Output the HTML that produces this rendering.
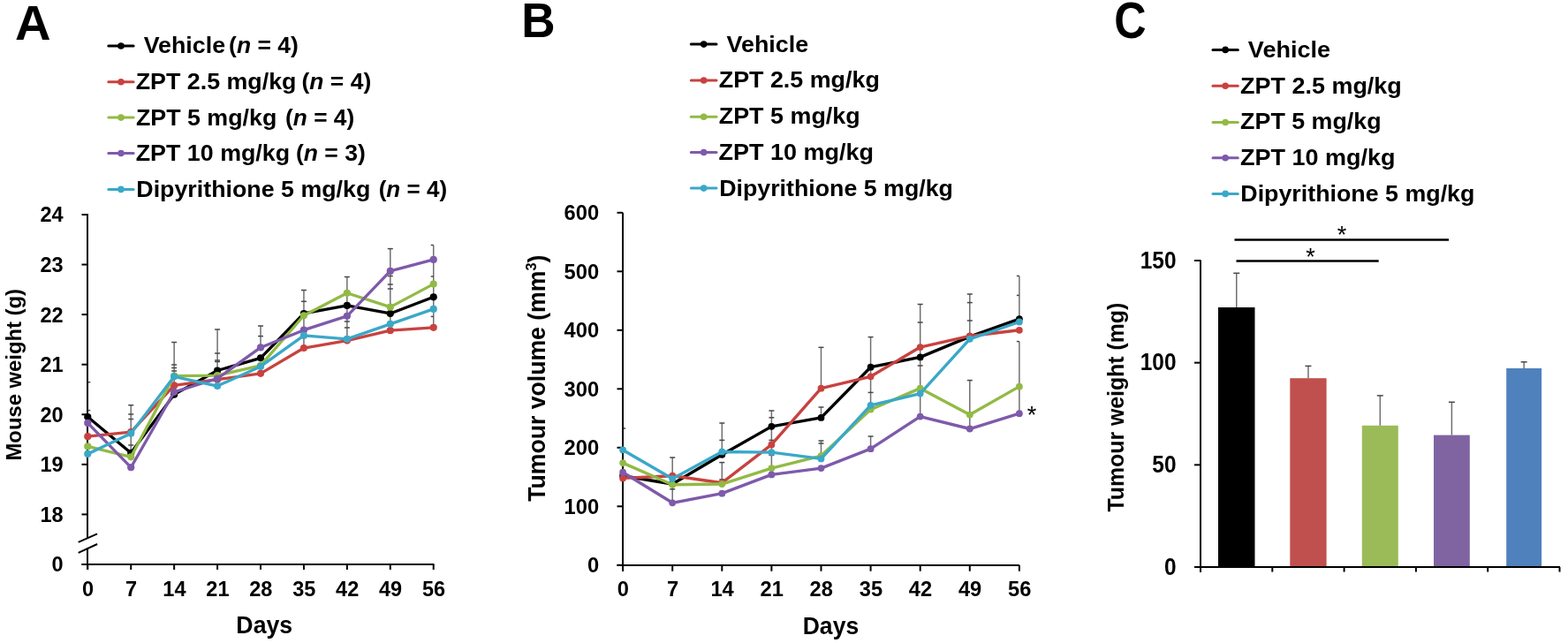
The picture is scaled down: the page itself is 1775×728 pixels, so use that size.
<!DOCTYPE html>
<html><head><meta charset="utf-8"><title>Figure</title>
<style>
html,body{margin:0;padding:0;background:#fff;}
svg{display:block;}
text{font-family:'Liberation Sans', Arial, Helvetica, sans-serif;font-weight:bold;fill:#000;}
</style></head><body>
<svg width="1775" height="728" viewBox="0 0 1775 728">
<rect width="1775" height="728" fill="#fff"/>
<line x1="99.30" y1="432.70" x2="99.30" y2="513.95" stroke="#707070" stroke-width="1.5" />
<line x1="99.30" y1="432.70" x2="102.30" y2="432.70" stroke="#484848" stroke-width="1.5" />
<line x1="99.30" y1="464.60" x2="102.30" y2="464.60" stroke="#484848" stroke-width="1.5" />
<line x1="148.23" y1="458.70" x2="148.23" y2="517.00" stroke="#707070" stroke-width="1.5" />
<line x1="145.23" y1="458.70" x2="151.23" y2="458.70" stroke="#484848" stroke-width="1.5" />
<line x1="145.23" y1="469.00" x2="151.23" y2="469.00" stroke="#484848" stroke-width="1.5" />
<line x1="145.23" y1="474.50" x2="151.23" y2="474.50" stroke="#484848" stroke-width="1.5" />
<line x1="145.23" y1="504.00" x2="151.23" y2="504.00" stroke="#484848" stroke-width="1.5" />
<line x1="197.16" y1="387.50" x2="197.16" y2="446.63" stroke="#707070" stroke-width="1.5" />
<line x1="194.16" y1="387.50" x2="200.16" y2="387.50" stroke="#484848" stroke-width="1.5" />
<line x1="194.16" y1="413.00" x2="200.16" y2="413.00" stroke="#484848" stroke-width="1.5" />
<line x1="194.16" y1="416.50" x2="200.16" y2="416.50" stroke="#484848" stroke-width="1.5" />
<line x1="194.16" y1="420.00" x2="200.16" y2="420.00" stroke="#484848" stroke-width="1.5" />
<line x1="246.09" y1="373.00" x2="246.09" y2="437.02" stroke="#707070" stroke-width="1.5" />
<line x1="243.09" y1="373.00" x2="249.09" y2="373.00" stroke="#484848" stroke-width="1.5" />
<line x1="243.09" y1="400.00" x2="249.09" y2="400.00" stroke="#484848" stroke-width="1.5" />
<line x1="243.09" y1="408.00" x2="249.09" y2="408.00" stroke="#484848" stroke-width="1.5" />
<line x1="243.09" y1="409.50" x2="249.09" y2="409.50" stroke="#484848" stroke-width="1.5" />
<line x1="295.02" y1="369.00" x2="295.02" y2="394.00" stroke="#707070" stroke-width="1.5" />
<line x1="292.02" y1="369.00" x2="298.02" y2="369.00" stroke="#484848" stroke-width="1.5" />
<line x1="292.02" y1="380.60" x2="298.02" y2="380.60" stroke="#484848" stroke-width="1.5" />
<line x1="343.95" y1="328.50" x2="343.95" y2="394.02" stroke="#707070" stroke-width="1.5" />
<line x1="340.95" y1="328.50" x2="346.95" y2="328.50" stroke="#484848" stroke-width="1.5" />
<line x1="340.95" y1="341.30" x2="346.95" y2="341.30" stroke="#484848" stroke-width="1.5" />
<line x1="392.88" y1="313.50" x2="392.88" y2="385.54" stroke="#707070" stroke-width="1.5" />
<line x1="389.88" y1="313.50" x2="395.88" y2="313.50" stroke="#484848" stroke-width="1.5" />
<line x1="389.88" y1="364.00" x2="395.88" y2="364.00" stroke="#484848" stroke-width="1.5" />
<line x1="389.88" y1="371.00" x2="395.88" y2="371.00" stroke="#484848" stroke-width="1.5" />
<line x1="441.81" y1="281.60" x2="441.81" y2="374.22" stroke="#707070" stroke-width="1.5" />
<line x1="438.81" y1="281.60" x2="444.81" y2="281.60" stroke="#484848" stroke-width="1.5" />
<line x1="438.81" y1="312.50" x2="444.81" y2="312.50" stroke="#484848" stroke-width="1.5" />
<line x1="438.81" y1="322.00" x2="444.81" y2="322.00" stroke="#484848" stroke-width="1.5" />
<line x1="438.81" y1="327.00" x2="444.81" y2="327.00" stroke="#484848" stroke-width="1.5" />
<line x1="490.74" y1="277.50" x2="490.74" y2="370.83" stroke="#707070" stroke-width="1.5" />
<line x1="487.74" y1="277.50" x2="490.74" y2="277.50" stroke="#484848" stroke-width="1.5" />
<line x1="487.74" y1="313.00" x2="490.74" y2="313.00" stroke="#484848" stroke-width="1.5" />
<line x1="487.74" y1="358.40" x2="490.74" y2="358.40" stroke="#484848" stroke-width="1.5" />
<line x1="705.10" y1="485.00" x2="705.10" y2="541.38" stroke="#707070" stroke-width="1.5" />
<line x1="705.10" y1="485.00" x2="708.10" y2="485.00" stroke="#484848" stroke-width="1.5" />
<line x1="761.20" y1="518.00" x2="761.20" y2="569.31" stroke="#707070" stroke-width="1.5" />
<line x1="758.20" y1="518.00" x2="764.20" y2="518.00" stroke="#484848" stroke-width="1.5" />
<line x1="758.20" y1="553.80" x2="764.20" y2="553.80" stroke="#484848" stroke-width="1.5" />
<line x1="817.30" y1="479.00" x2="817.30" y2="511.00" stroke="#707070" stroke-width="1.5" />
<line x1="817.30" y1="523.60" x2="817.30" y2="548.00" stroke="#707070" stroke-width="1.5" />
<line x1="814.30" y1="479.00" x2="820.30" y2="479.00" stroke="#484848" stroke-width="1.5" />
<line x1="814.30" y1="498.40" x2="820.30" y2="498.40" stroke="#484848" stroke-width="1.5" />
<line x1="814.30" y1="523.60" x2="820.30" y2="523.60" stroke="#484848" stroke-width="1.5" />
<line x1="814.30" y1="542.90" x2="820.30" y2="542.90" stroke="#484848" stroke-width="1.5" />
<line x1="873.39" y1="465.00" x2="873.39" y2="537.39" stroke="#707070" stroke-width="1.5" />
<line x1="870.39" y1="465.00" x2="876.39" y2="465.00" stroke="#484848" stroke-width="1.5" />
<line x1="870.39" y1="472.80" x2="876.39" y2="472.80" stroke="#484848" stroke-width="1.5" />
<line x1="870.39" y1="498.40" x2="876.39" y2="498.40" stroke="#484848" stroke-width="1.5" />
<line x1="870.39" y1="515.40" x2="876.39" y2="515.40" stroke="#484848" stroke-width="1.5" />
<line x1="929.49" y1="393.30" x2="929.49" y2="440.00" stroke="#707070" stroke-width="1.5" />
<line x1="929.49" y1="461.00" x2="929.49" y2="473.00" stroke="#707070" stroke-width="1.5" />
<line x1="929.49" y1="499.00" x2="929.49" y2="520.00" stroke="#707070" stroke-width="1.5" />
<line x1="926.49" y1="393.30" x2="932.49" y2="393.30" stroke="#484848" stroke-width="1.5" />
<line x1="926.49" y1="461.00" x2="932.49" y2="461.00" stroke="#484848" stroke-width="1.5" />
<line x1="926.49" y1="499.00" x2="932.49" y2="499.00" stroke="#484848" stroke-width="1.5" />
<line x1="926.49" y1="502.00" x2="932.49" y2="502.00" stroke="#484848" stroke-width="1.5" />
<line x1="985.59" y1="381.60" x2="985.59" y2="460.00" stroke="#707070" stroke-width="1.5" />
<line x1="985.59" y1="494.00" x2="985.59" y2="508.60" stroke="#707070" stroke-width="1.5" />
<line x1="982.59" y1="381.60" x2="988.59" y2="381.60" stroke="#484848" stroke-width="1.5" />
<line x1="982.59" y1="444.40" x2="988.59" y2="444.40" stroke="#484848" stroke-width="1.5" />
<line x1="982.59" y1="494.00" x2="988.59" y2="494.00" stroke="#484848" stroke-width="1.5" />
<line x1="1041.69" y1="344.50" x2="1041.69" y2="471.55" stroke="#707070" stroke-width="1.5" />
<line x1="1038.69" y1="344.50" x2="1044.69" y2="344.50" stroke="#484848" stroke-width="1.5" />
<line x1="1038.69" y1="365.00" x2="1044.69" y2="365.00" stroke="#484848" stroke-width="1.5" />
<line x1="1038.69" y1="414.00" x2="1044.69" y2="414.00" stroke="#484848" stroke-width="1.5" />
<line x1="1097.79" y1="333.00" x2="1097.79" y2="382.00" stroke="#707070" stroke-width="1.5" />
<line x1="1097.79" y1="430.60" x2="1097.79" y2="485.60" stroke="#707070" stroke-width="1.5" />
<line x1="1094.79" y1="333.00" x2="1100.79" y2="333.00" stroke="#484848" stroke-width="1.5" />
<line x1="1094.79" y1="342.60" x2="1100.79" y2="342.60" stroke="#484848" stroke-width="1.5" />
<line x1="1094.79" y1="363.00" x2="1100.79" y2="363.00" stroke="#484848" stroke-width="1.5" />
<line x1="1094.79" y1="430.60" x2="1100.79" y2="430.60" stroke="#484848" stroke-width="1.5" />
<line x1="1153.88" y1="312.40" x2="1153.88" y2="366.00" stroke="#707070" stroke-width="1.5" />
<line x1="1153.88" y1="386.60" x2="1153.88" y2="468.00" stroke="#707070" stroke-width="1.5" />
<line x1="1150.88" y1="312.40" x2="1153.88" y2="312.40" stroke="#484848" stroke-width="1.5" />
<line x1="1150.88" y1="334.40" x2="1153.88" y2="334.40" stroke="#484848" stroke-width="1.5" />
<line x1="1150.88" y1="386.60" x2="1153.88" y2="386.60" stroke="#484848" stroke-width="1.5" />
<text transform="translate(16.97,44.50) scale(1.0204,1)" font-size="55">A</text>
<text transform="translate(590.21,42.20) scale(0.9570,1)" font-size="55.5">B</text>
<text transform="translate(1261.20,42.60) scale(0.8892,1)" font-size="56.5">C</text>
<text transform="translate(162.64,60.20) scale(1.0405,1)" font-size="25.8">Vehicle</text>
<text transform="translate(259.12,60.20) scale(1.0263,1)" font-size="25.8">(<tspan font-style='italic'>n</tspan> = 4)</text>
<text transform="translate(153.72,101.40) scale(1.0394,1)" font-size="25.8">ZPT 2.5 mg/kg</text>
<text transform="translate(341.52,101.40) scale(1.0263,1)" font-size="25.8">(<tspan font-style='italic'>n</tspan> = 4)</text>
<text transform="translate(153.92,141.80) scale(1.0397,1)" font-size="25.8">ZPT 5 mg/kg</text>
<text transform="translate(323.03,141.80) scale(1.0195,1)" font-size="25.8">(<tspan font-style='italic'>n</tspan> = 4)</text>
<text transform="translate(153.72,182.40) scale(1.0402,1)" font-size="25.8">ZPT 10 mg/kg</text>
<text transform="translate(334.91,182.40) scale(1.0290,1)" font-size="25.8">(<tspan font-style='italic'>n</tspan> = 3)</text>
<text transform="translate(154.28,222.90) scale(1.0391,1)" font-size="25.8">Dipyrithione 5 mg/kg</text>
<text transform="translate(428.64,222.90) scale(1.0101,1)" font-size="25.8">(<tspan font-style='italic'>n</tspan> = 4)</text>
<text transform="translate(822.54,58.90) scale(1.0427,1)" font-size="25.8">Vehicle</text>
<text transform="translate(1412.84,65.20) scale(1.0484,1)" font-size="25.8">Vehicle</text>
<text transform="translate(813.72,98.90) scale(1.0417,1)" font-size="25.8">ZPT 2.5 mg/kg</text>
<text transform="translate(1404.12,105.90) scale(1.0446,1)" font-size="25.8">ZPT 2.5 mg/kg</text>
<text transform="translate(813.72,139.60) scale(1.0430,1)" font-size="25.8">ZPT 5 mg/kg</text>
<text transform="translate(1404.12,146.30) scale(1.0404,1)" font-size="25.8">ZPT 5 mg/kg</text>
<text transform="translate(813.41,180.60) scale(1.0469,1)" font-size="25.8">ZPT 10 mg/kg</text>
<text transform="translate(1403.91,187.40) scale(1.0469,1)" font-size="25.8">ZPT 10 mg/kg</text>
<text transform="translate(814.18,221.80) scale(1.0383,1)" font-size="25.8">Dipyrithione 5 mg/kg</text>
<text transform="translate(1404.28,228.00) scale(1.0399,1)" font-size="25.8">Dipyrithione 5 mg/kg</text>
<text transform="translate(267.37,716.90) scale(0.9895,1)" font-size="27">Days</text>
<text transform="translate(908.68,717.60) scale(0.9846,1)" font-size="27">Days</text>
<text transform="translate(24.10,521.50) rotate(-90) scale(0.9726,1.0)" font-size="24.5">Mouse weight (g)</text>
<text transform="translate(616.80,567.67) rotate(-90) scale(1.0865,1.1)" font-size="24.5">Tumour volume (mm<tspan font-size='15' dy='-9'>3</tspan><tspan dy='9'>)</tspan></text>
<text transform="translate(1271.60,579.45) rotate(-90) scale(1.0134,1.03)" font-size="24.5">Tumour weight (mg)</text>
<line x1="122.80" y1="52.00" x2="151.10" y2="52.00" stroke="#000000" stroke-width="3" stroke-linecap="round"/>
<circle cx="136.95" cy="52.00" r="3.8" fill="#000000"/>
<line x1="122.80" y1="92.70" x2="151.10" y2="92.70" stroke="#C8423F" stroke-width="3" stroke-linecap="round"/>
<circle cx="136.95" cy="92.70" r="3.8" fill="#C8423F"/>
<line x1="122.80" y1="133.10" x2="151.10" y2="133.10" stroke="#92BA45" stroke-width="3" stroke-linecap="round"/>
<circle cx="136.95" cy="133.10" r="3.8" fill="#92BA45"/>
<line x1="122.80" y1="173.50" x2="151.10" y2="173.50" stroke="#7E5AAA" stroke-width="3" stroke-linecap="round"/>
<circle cx="136.95" cy="173.50" r="3.8" fill="#7E5AAA"/>
<line x1="122.80" y1="214.40" x2="151.10" y2="214.40" stroke="#3AA8C8" stroke-width="3" stroke-linecap="round"/>
<circle cx="136.95" cy="214.40" r="3.8" fill="#3AA8C8"/>
<line x1="782.30" y1="50.10" x2="811.00" y2="50.10" stroke="#000000" stroke-width="3" stroke-linecap="round"/>
<circle cx="796.65" cy="50.10" r="3.8" fill="#000000"/>
<line x1="782.30" y1="91.00" x2="811.00" y2="91.00" stroke="#C8423F" stroke-width="3" stroke-linecap="round"/>
<circle cx="796.65" cy="91.00" r="3.8" fill="#C8423F"/>
<line x1="782.30" y1="132.20" x2="811.00" y2="132.20" stroke="#92BA45" stroke-width="3" stroke-linecap="round"/>
<circle cx="796.65" cy="132.20" r="3.8" fill="#92BA45"/>
<line x1="782.30" y1="172.50" x2="811.00" y2="172.50" stroke="#7E5AAA" stroke-width="3" stroke-linecap="round"/>
<circle cx="796.65" cy="172.50" r="3.8" fill="#7E5AAA"/>
<line x1="782.30" y1="213.10" x2="811.00" y2="213.10" stroke="#3AA8C8" stroke-width="3" stroke-linecap="round"/>
<circle cx="796.65" cy="213.10" r="3.8" fill="#3AA8C8"/>
<line x1="1373.00" y1="56.40" x2="1401.30" y2="56.40" stroke="#000000" stroke-width="3" stroke-linecap="round"/>
<circle cx="1387.15" cy="56.40" r="3.8" fill="#000000"/>
<line x1="1373.00" y1="97.30" x2="1401.30" y2="97.30" stroke="#C8423F" stroke-width="3" stroke-linecap="round"/>
<circle cx="1387.15" cy="97.30" r="3.8" fill="#C8423F"/>
<line x1="1373.00" y1="138.50" x2="1401.30" y2="138.50" stroke="#92BA45" stroke-width="3" stroke-linecap="round"/>
<circle cx="1387.15" cy="138.50" r="3.8" fill="#92BA45"/>
<line x1="1373.00" y1="178.80" x2="1401.30" y2="178.80" stroke="#7E5AAA" stroke-width="3" stroke-linecap="round"/>
<circle cx="1387.15" cy="178.80" r="3.8" fill="#7E5AAA"/>
<line x1="1373.00" y1="219.40" x2="1401.30" y2="219.40" stroke="#3AA8C8" stroke-width="3" stroke-linecap="round"/>
<circle cx="1387.15" cy="219.40" r="3.8" fill="#3AA8C8"/>
<line x1="99.00" y1="242.00" x2="99.00" y2="609.50" stroke="#000" stroke-width="2" />
<line x1="99.00" y1="620.50" x2="99.00" y2="645.00" stroke="#000" stroke-width="2" />
<line x1="92.50" y1="582.40" x2="99.00" y2="582.40" stroke="#000" stroke-width="2" />
<text transform="translate(71.60,590.80) scale(0.962,1)" font-size="24.5" text-anchor="end">18</text>
<line x1="92.50" y1="525.83" x2="99.00" y2="525.83" stroke="#000" stroke-width="2" />
<text transform="translate(71.60,534.23) scale(0.962,1)" font-size="24.5" text-anchor="end">19</text>
<line x1="92.50" y1="469.26" x2="99.00" y2="469.26" stroke="#000" stroke-width="2" />
<text transform="translate(71.60,477.66) scale(0.962,1)" font-size="24.5" text-anchor="end">20</text>
<line x1="92.50" y1="412.69" x2="99.00" y2="412.69" stroke="#000" stroke-width="2" />
<text transform="translate(71.60,421.09) scale(0.962,1)" font-size="24.5" text-anchor="end">21</text>
<line x1="92.50" y1="356.12" x2="99.00" y2="356.12" stroke="#000" stroke-width="2" />
<text transform="translate(71.60,364.52) scale(0.962,1)" font-size="24.5" text-anchor="end">22</text>
<line x1="92.50" y1="299.55" x2="99.00" y2="299.55" stroke="#000" stroke-width="2" />
<text transform="translate(71.60,307.95) scale(0.962,1)" font-size="24.5" text-anchor="end">23</text>
<line x1="92.50" y1="242.98" x2="99.00" y2="242.98" stroke="#000" stroke-width="2" />
<text transform="translate(71.60,251.38) scale(0.962,1)" font-size="24.5" text-anchor="end">24</text>
<line x1="92.50" y1="639.00" x2="99.00" y2="639.00" stroke="#000" stroke-width="2" />
<text transform="translate(71.60,647.40) scale(0.962,1)" font-size="24.5" text-anchor="end">0</text>
<line x1="88.70" y1="613.90" x2="110.10" y2="604.40" stroke="#000" stroke-width="2" />
<line x1="88.70" y1="625.90" x2="110.10" y2="616.00" stroke="#000" stroke-width="2" />
<line x1="92.50" y1="639.00" x2="491.50" y2="639.00" stroke="#000" stroke-width="2" />
<line x1="99.30" y1="639.00" x2="99.30" y2="645.00" stroke="#000" stroke-width="2" />
<text transform="translate(99.60,675.30) scale(0.962,1)" font-size="24.5" text-anchor="middle">0</text>
<line x1="148.23" y1="639.00" x2="148.23" y2="645.00" stroke="#000" stroke-width="2" />
<text transform="translate(148.53,675.30) scale(0.962,1)" font-size="24.5" text-anchor="middle">7</text>
<line x1="197.16" y1="639.00" x2="197.16" y2="645.00" stroke="#000" stroke-width="2" />
<text transform="translate(197.46,675.30) scale(0.962,1)" font-size="24.5" text-anchor="middle">14</text>
<line x1="246.09" y1="639.00" x2="246.09" y2="645.00" stroke="#000" stroke-width="2" />
<text transform="translate(246.39,675.30) scale(0.962,1)" font-size="24.5" text-anchor="middle">21</text>
<line x1="295.02" y1="639.00" x2="295.02" y2="645.00" stroke="#000" stroke-width="2" />
<text transform="translate(295.32,675.30) scale(0.962,1)" font-size="24.5" text-anchor="middle">28</text>
<line x1="343.95" y1="639.00" x2="343.95" y2="645.00" stroke="#000" stroke-width="2" />
<text transform="translate(344.25,675.30) scale(0.962,1)" font-size="24.5" text-anchor="middle">35</text>
<line x1="392.88" y1="639.00" x2="392.88" y2="645.00" stroke="#000" stroke-width="2" />
<text transform="translate(393.18,675.30) scale(0.962,1)" font-size="24.5" text-anchor="middle">42</text>
<line x1="441.81" y1="639.00" x2="441.81" y2="645.00" stroke="#000" stroke-width="2" />
<text transform="translate(442.11,675.30) scale(0.962,1)" font-size="24.5" text-anchor="middle">49</text>
<line x1="490.74" y1="639.00" x2="490.74" y2="645.00" stroke="#000" stroke-width="2" />
<text transform="translate(491.04,675.30) scale(0.962,1)" font-size="24.5" text-anchor="middle">56</text>
<polyline points="99.30,472.09 148.23,512.82 197.16,446.63 246.09,419.48 295.02,405.34 343.95,354.99 392.88,345.94 441.81,354.99 490.74,336.32" fill="none" stroke="#000000" stroke-width="3.3" stroke-linejoin="round"/>
<circle cx="99.30" cy="472.09" r="4.1" fill="#000000"/>
<circle cx="148.23" cy="512.82" r="4.1" fill="#000000"/>
<circle cx="197.16" cy="446.63" r="4.1" fill="#000000"/>
<circle cx="246.09" cy="419.48" r="4.1" fill="#000000"/>
<circle cx="295.02" cy="405.34" r="4.1" fill="#000000"/>
<circle cx="343.95" cy="354.99" r="4.1" fill="#000000"/>
<circle cx="392.88" cy="345.94" r="4.1" fill="#000000"/>
<circle cx="441.81" cy="354.99" r="4.1" fill="#000000"/>
<circle cx="490.74" cy="336.32" r="4.1" fill="#000000"/>
<polyline points="99.30,494.15 148.23,489.06 197.16,436.45 246.09,429.66 295.02,422.87 343.95,394.02 392.88,385.54 441.81,374.22 490.74,370.83" fill="none" stroke="#C8423F" stroke-width="3.3" stroke-linejoin="round"/>
<circle cx="99.30" cy="494.15" r="4.1" fill="#C8423F"/>
<circle cx="148.23" cy="489.06" r="4.1" fill="#C8423F"/>
<circle cx="197.16" cy="436.45" r="4.1" fill="#C8423F"/>
<circle cx="246.09" cy="429.66" r="4.1" fill="#C8423F"/>
<circle cx="295.02" cy="422.87" r="4.1" fill="#C8423F"/>
<circle cx="343.95" cy="394.02" r="4.1" fill="#C8423F"/>
<circle cx="392.88" cy="385.54" r="4.1" fill="#C8423F"/>
<circle cx="441.81" cy="374.22" r="4.1" fill="#C8423F"/>
<circle cx="490.74" cy="370.83" r="4.1" fill="#C8423F"/>
<polyline points="99.30,505.46 148.23,517.34 197.16,425.70 246.09,425.14 295.02,413.82 343.95,357.25 392.88,331.79 441.81,347.63 490.74,321.61" fill="none" stroke="#92BA45" stroke-width="3.3" stroke-linejoin="round"/>
<circle cx="99.30" cy="505.46" r="4.1" fill="#92BA45"/>
<circle cx="148.23" cy="517.34" r="4.1" fill="#92BA45"/>
<circle cx="197.16" cy="425.70" r="4.1" fill="#92BA45"/>
<circle cx="246.09" cy="425.14" r="4.1" fill="#92BA45"/>
<circle cx="295.02" cy="413.82" r="4.1" fill="#92BA45"/>
<circle cx="343.95" cy="357.25" r="4.1" fill="#92BA45"/>
<circle cx="392.88" cy="331.79" r="4.1" fill="#92BA45"/>
<circle cx="441.81" cy="347.63" r="4.1" fill="#92BA45"/>
<circle cx="490.74" cy="321.61" r="4.1" fill="#92BA45"/>
<polyline points="99.30,478.88 148.23,529.22 197.16,443.80 246.09,428.53 295.02,393.46 343.95,373.66 392.88,357.82 441.81,306.90 490.74,293.89" fill="none" stroke="#7E5AAA" stroke-width="3.3" stroke-linejoin="round"/>
<circle cx="99.30" cy="478.88" r="4.1" fill="#7E5AAA"/>
<circle cx="148.23" cy="529.22" r="4.1" fill="#7E5AAA"/>
<circle cx="197.16" cy="443.80" r="4.1" fill="#7E5AAA"/>
<circle cx="246.09" cy="428.53" r="4.1" fill="#7E5AAA"/>
<circle cx="295.02" cy="393.46" r="4.1" fill="#7E5AAA"/>
<circle cx="343.95" cy="373.66" r="4.1" fill="#7E5AAA"/>
<circle cx="392.88" cy="357.82" r="4.1" fill="#7E5AAA"/>
<circle cx="441.81" cy="306.90" r="4.1" fill="#7E5AAA"/>
<circle cx="490.74" cy="293.89" r="4.1" fill="#7E5AAA"/>
<polyline points="99.30,513.95 148.23,490.76 197.16,426.27 246.09,437.02 295.02,414.95 343.95,379.88 392.88,383.84 441.81,366.87 490.74,349.90" fill="none" stroke="#3AA8C8" stroke-width="3.3" stroke-linejoin="round"/>
<circle cx="99.30" cy="513.95" r="4.1" fill="#3AA8C8"/>
<circle cx="148.23" cy="490.76" r="4.1" fill="#3AA8C8"/>
<circle cx="197.16" cy="426.27" r="4.1" fill="#3AA8C8"/>
<circle cx="246.09" cy="437.02" r="4.1" fill="#3AA8C8"/>
<circle cx="295.02" cy="414.95" r="4.1" fill="#3AA8C8"/>
<circle cx="343.95" cy="379.88" r="4.1" fill="#3AA8C8"/>
<circle cx="392.88" cy="383.84" r="4.1" fill="#3AA8C8"/>
<circle cx="441.81" cy="366.87" r="4.1" fill="#3AA8C8"/>
<circle cx="490.74" cy="349.90" r="4.1" fill="#3AA8C8"/>
<line x1="705.00" y1="240.80" x2="705.00" y2="646.70" stroke="#000" stroke-width="2" />
<line x1="698.50" y1="639.80" x2="705.00" y2="639.80" stroke="#000" stroke-width="2" />
<text transform="translate(678.10,648.20) scale(0.955,1)" font-size="24.8" text-anchor="end">0</text>
<line x1="698.50" y1="573.30" x2="705.00" y2="573.30" stroke="#000" stroke-width="2" />
<text transform="translate(678.10,581.70) scale(0.955,1)" font-size="24.8" text-anchor="end">100</text>
<line x1="698.50" y1="506.80" x2="705.00" y2="506.80" stroke="#000" stroke-width="2" />
<text transform="translate(678.10,515.20) scale(0.955,1)" font-size="24.8" text-anchor="end">200</text>
<line x1="698.50" y1="440.30" x2="705.00" y2="440.30" stroke="#000" stroke-width="2" />
<text transform="translate(678.10,448.70) scale(0.955,1)" font-size="24.8" text-anchor="end">300</text>
<line x1="698.50" y1="373.80" x2="705.00" y2="373.80" stroke="#000" stroke-width="2" />
<text transform="translate(678.10,382.20) scale(0.955,1)" font-size="24.8" text-anchor="end">400</text>
<line x1="698.50" y1="307.30" x2="705.00" y2="307.30" stroke="#000" stroke-width="2" />
<text transform="translate(678.10,315.70) scale(0.955,1)" font-size="24.8" text-anchor="end">500</text>
<line x1="698.50" y1="240.80" x2="705.00" y2="240.80" stroke="#000" stroke-width="2" />
<text transform="translate(678.10,249.20) scale(0.955,1)" font-size="24.8" text-anchor="end">600</text>
<line x1="698.50" y1="640.00" x2="1154.00" y2="640.00" stroke="#000" stroke-width="2" />
<line x1="705.10" y1="640.00" x2="705.10" y2="646.70" stroke="#000" stroke-width="2" />
<text transform="translate(705.40,675.40) scale(0.955,1)" font-size="24.8" text-anchor="middle">0</text>
<line x1="761.20" y1="640.00" x2="761.20" y2="646.70" stroke="#000" stroke-width="2" />
<text transform="translate(761.50,675.40) scale(0.955,1)" font-size="24.8" text-anchor="middle">7</text>
<line x1="817.30" y1="640.00" x2="817.30" y2="646.70" stroke="#000" stroke-width="2" />
<text transform="translate(817.60,675.40) scale(0.955,1)" font-size="24.8" text-anchor="middle">14</text>
<line x1="873.39" y1="640.00" x2="873.39" y2="646.70" stroke="#000" stroke-width="2" />
<text transform="translate(873.69,675.40) scale(0.955,1)" font-size="24.8" text-anchor="middle">21</text>
<line x1="929.49" y1="640.00" x2="929.49" y2="646.70" stroke="#000" stroke-width="2" />
<text transform="translate(929.79,675.40) scale(0.955,1)" font-size="24.8" text-anchor="middle">28</text>
<line x1="985.59" y1="640.00" x2="985.59" y2="646.70" stroke="#000" stroke-width="2" />
<text transform="translate(985.89,675.40) scale(0.955,1)" font-size="24.8" text-anchor="middle">35</text>
<line x1="1041.69" y1="640.00" x2="1041.69" y2="646.70" stroke="#000" stroke-width="2" />
<text transform="translate(1041.99,675.40) scale(0.955,1)" font-size="24.8" text-anchor="middle">42</text>
<line x1="1097.79" y1="640.00" x2="1097.79" y2="646.70" stroke="#000" stroke-width="2" />
<text transform="translate(1098.09,675.40) scale(0.955,1)" font-size="24.8" text-anchor="middle">49</text>
<line x1="1153.88" y1="640.00" x2="1153.88" y2="646.70" stroke="#000" stroke-width="2" />
<text transform="translate(1154.18,675.40) scale(0.955,1)" font-size="24.8" text-anchor="middle">56</text>
<polyline points="705.10,538.72 761.20,548.03 817.30,514.78 873.39,482.86 929.49,472.88 985.59,415.69 1041.69,404.39 1097.79,381.11 1153.88,361.16" fill="none" stroke="#000000" stroke-width="3.4" stroke-linejoin="round"/>
<circle cx="705.10" cy="538.72" r="3.9" fill="#000000"/>
<circle cx="761.20" cy="548.03" r="3.9" fill="#000000"/>
<circle cx="817.30" cy="514.78" r="3.9" fill="#000000"/>
<circle cx="873.39" cy="482.86" r="3.9" fill="#000000"/>
<circle cx="929.49" cy="472.88" r="3.9" fill="#000000"/>
<circle cx="985.59" cy="415.69" r="3.9" fill="#000000"/>
<circle cx="1041.69" cy="404.39" r="3.9" fill="#000000"/>
<circle cx="1097.79" cy="381.11" r="3.9" fill="#000000"/>
<circle cx="1153.88" cy="361.16" r="3.9" fill="#000000"/>
<polyline points="705.10,541.38 761.20,538.72 817.30,546.70 873.39,503.47 929.49,439.63 985.59,426.33 1041.69,393.08 1097.79,380.45 1153.88,373.80" fill="none" stroke="#C8423F" stroke-width="3.4" stroke-linejoin="round"/>
<circle cx="705.10" cy="541.38" r="3.9" fill="#C8423F"/>
<circle cx="761.20" cy="538.72" r="3.9" fill="#C8423F"/>
<circle cx="817.30" cy="546.70" r="3.9" fill="#C8423F"/>
<circle cx="873.39" cy="503.47" r="3.9" fill="#C8423F"/>
<circle cx="929.49" cy="439.63" r="3.9" fill="#C8423F"/>
<circle cx="985.59" cy="426.33" r="3.9" fill="#C8423F"/>
<circle cx="1041.69" cy="393.08" r="3.9" fill="#C8423F"/>
<circle cx="1097.79" cy="380.45" r="3.9" fill="#C8423F"/>
<circle cx="1153.88" cy="373.80" r="3.9" fill="#C8423F"/>
<polyline points="705.10,524.09 761.20,548.69 817.30,548.03 873.39,530.07 929.49,516.11 985.59,463.57 1041.69,439.63 1097.79,469.56 1153.88,437.64" fill="none" stroke="#92BA45" stroke-width="3.4" stroke-linejoin="round"/>
<circle cx="705.10" cy="524.09" r="3.9" fill="#92BA45"/>
<circle cx="761.20" cy="548.69" r="3.9" fill="#92BA45"/>
<circle cx="817.30" cy="548.03" r="3.9" fill="#92BA45"/>
<circle cx="873.39" cy="530.07" r="3.9" fill="#92BA45"/>
<circle cx="929.49" cy="516.11" r="3.9" fill="#92BA45"/>
<circle cx="985.59" cy="463.57" r="3.9" fill="#92BA45"/>
<circle cx="1041.69" cy="439.63" r="3.9" fill="#92BA45"/>
<circle cx="1097.79" cy="469.56" r="3.9" fill="#92BA45"/>
<circle cx="1153.88" cy="437.64" r="3.9" fill="#92BA45"/>
<polyline points="705.10,534.73 761.20,569.31 817.30,558.67 873.39,537.39 929.49,530.07 985.59,508.13 1041.69,471.55 1097.79,485.52 1153.88,468.23" fill="none" stroke="#7E5AAA" stroke-width="3.4" stroke-linejoin="round"/>
<circle cx="705.10" cy="534.73" r="3.9" fill="#7E5AAA"/>
<circle cx="761.20" cy="569.31" r="3.9" fill="#7E5AAA"/>
<circle cx="817.30" cy="558.67" r="3.9" fill="#7E5AAA"/>
<circle cx="873.39" cy="537.39" r="3.9" fill="#7E5AAA"/>
<circle cx="929.49" cy="530.07" r="3.9" fill="#7E5AAA"/>
<circle cx="985.59" cy="508.13" r="3.9" fill="#7E5AAA"/>
<circle cx="1041.69" cy="471.55" r="3.9" fill="#7E5AAA"/>
<circle cx="1097.79" cy="485.52" r="3.9" fill="#7E5AAA"/>
<circle cx="1153.88" cy="468.23" r="3.9" fill="#7E5AAA"/>
<polyline points="705.10,509.46 761.20,542.04 817.30,511.45 873.39,512.12 929.49,519.43 985.59,458.92 1041.69,445.62 1097.79,383.77 1153.88,364.49" fill="none" stroke="#3AA8C8" stroke-width="3.4" stroke-linejoin="round"/>
<circle cx="705.10" cy="509.46" r="3.9" fill="#3AA8C8"/>
<circle cx="761.20" cy="542.04" r="3.9" fill="#3AA8C8"/>
<circle cx="817.30" cy="511.45" r="3.9" fill="#3AA8C8"/>
<circle cx="873.39" cy="512.12" r="3.9" fill="#3AA8C8"/>
<circle cx="929.49" cy="519.43" r="3.9" fill="#3AA8C8"/>
<circle cx="985.59" cy="458.92" r="3.9" fill="#3AA8C8"/>
<circle cx="1041.69" cy="445.62" r="3.9" fill="#3AA8C8"/>
<circle cx="1097.79" cy="383.77" r="3.9" fill="#3AA8C8"/>
<circle cx="1153.88" cy="364.49" r="3.9" fill="#3AA8C8"/>
<text x="1168" y="479" font-size="27" text-anchor="middle" font-weight="normal" style="font-weight:normal">*</text>
<line x1="1359.00" y1="294.50" x2="1359.00" y2="648.00" stroke="#000" stroke-width="2" />
<line x1="1352.00" y1="642.00" x2="1359.00" y2="642.00" stroke="#000" stroke-width="2" />
<text transform="translate(1331.50,650.50) scale(0.905,1)" font-size="27" text-anchor="end">0</text>
<line x1="1352.00" y1="526.34" x2="1359.00" y2="526.34" stroke="#000" stroke-width="2" />
<text transform="translate(1331.50,534.84) scale(0.905,1)" font-size="27" text-anchor="end">50</text>
<line x1="1352.00" y1="410.67" x2="1359.00" y2="410.67" stroke="#000" stroke-width="2" />
<text transform="translate(1331.50,419.17) scale(0.905,1)" font-size="27" text-anchor="end">100</text>
<line x1="1352.00" y1="295.00" x2="1359.00" y2="295.00" stroke="#000" stroke-width="2" />
<text transform="translate(1331.50,303.50) scale(0.905,1)" font-size="27" text-anchor="end">150</text>
<rect x="1379" y="348" width="41.50" height="294.00" fill="#000000"/>
<line x1="1399.75" y1="309.30" x2="1399.75" y2="348.00" stroke="#707070" stroke-width="1.5" />
<line x1="1396.25" y1="309.30" x2="1403.25" y2="309.30" stroke="#484848" stroke-width="1.5" />
<rect x="1460.3" y="428.2" width="41.30" height="213.80" fill="#C0504D"/>
<line x1="1480.95" y1="414.40" x2="1480.95" y2="428.20" stroke="#707070" stroke-width="1.5" />
<line x1="1477.45" y1="414.40" x2="1484.45" y2="414.40" stroke="#484848" stroke-width="1.5" />
<rect x="1541.8" y="481.8" width="41.00" height="160.20" fill="#9BBB59"/>
<line x1="1562.30" y1="447.90" x2="1562.30" y2="481.80" stroke="#707070" stroke-width="1.5" />
<line x1="1558.80" y1="447.90" x2="1565.80" y2="447.90" stroke="#484848" stroke-width="1.5" />
<rect x="1623" y="492.6" width="40.80" height="149.40" fill="#8064A2"/>
<line x1="1643.40" y1="455.30" x2="1643.40" y2="492.60" stroke="#707070" stroke-width="1.5" />
<line x1="1639.90" y1="455.30" x2="1646.90" y2="455.30" stroke="#484848" stroke-width="1.5" />
<rect x="1705.2" y="417" width="39.90" height="225.00" fill="#4F81BD"/>
<line x1="1725.15" y1="409.80" x2="1725.15" y2="417.00" stroke="#707070" stroke-width="1.5" />
<line x1="1721.65" y1="409.80" x2="1728.65" y2="409.80" stroke="#484848" stroke-width="1.5" />
<line x1="1352.00" y1="642.00" x2="1766.00" y2="642.00" stroke="#000" stroke-width="2" />
<line x1="1359.00" y1="642.00" x2="1359.00" y2="647.50" stroke="#000" stroke-width="2" />
<line x1="1440.30" y1="642.00" x2="1440.30" y2="647.50" stroke="#000" stroke-width="2" />
<line x1="1521.60" y1="642.00" x2="1521.60" y2="647.50" stroke="#000" stroke-width="2" />
<line x1="1602.90" y1="642.00" x2="1602.90" y2="647.50" stroke="#000" stroke-width="2" />
<line x1="1684.20" y1="642.00" x2="1684.20" y2="647.50" stroke="#000" stroke-width="2" />
<line x1="1765.50" y1="642.00" x2="1765.50" y2="647.50" stroke="#000" stroke-width="2" />
<line x1="1397.50" y1="271.50" x2="1640.00" y2="271.50" stroke="#000" stroke-width="2.5" />
<line x1="1399.50" y1="295.50" x2="1560.70" y2="295.50" stroke="#000" stroke-width="2.5" />
<text x="1518.9" y="274.5" font-size="27" text-anchor="middle" style="font-weight:normal">*</text>
<text x="1483.6" y="299.5" font-size="27" text-anchor="middle" style="font-weight:normal">*</text>
</svg>
</body></html>
